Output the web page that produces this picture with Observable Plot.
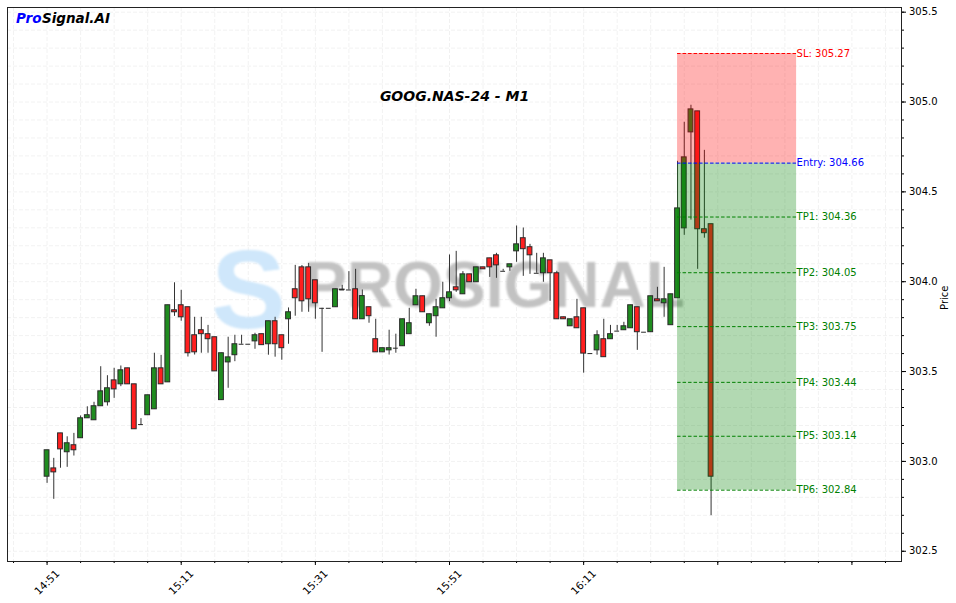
<!DOCTYPE html>
<html><head><meta charset="utf-8">
<script src="https://cdn.jsdelivr.net/npm/d3@7"></script>
<script src="https://cdn.jsdelivr.net/npm/@observablehq/plot@0.6"></script>
<style>body{margin:0;background:#fff;} svg{display:block;}</style>
</head><body><div id="chart"></div>
<script>
const times = ["14:51","14:52","14:53","14:54","14:55","14:56","14:57","14:58","14:59","15:00",
"15:01","15:02","15:03","15:04","15:05","15:06","15:07","15:08","15:09","15:10",
"15:11","15:12","15:13","15:14","15:15","15:16","15:17","15:18","15:19","15:20",
"15:21","15:22","15:23","15:24","15:25","15:26","15:27","15:28","15:29","15:30",
"15:31","15:32","15:33","15:34","15:35","15:36","15:37","15:38","15:39","15:40",
"15:41","15:42","15:43","15:44","15:45","15:46","15:47","15:48","15:49","15:50",
"15:51","15:52","15:53","15:54","15:55","15:56","15:57","15:58","15:59","16:00",
"16:01","16:02","16:03","16:04","16:05","16:06","16:07","16:08","16:09","16:10",
"16:11","16:12","16:13","16:14","16:15","16:16","16:17","16:18","16:19","16:20",
"16:21","16:22","16:23","16:24","16:25","16:26","16:27","16:28","16:29","16:30"];
const opens = [302.915,302.961,303.156,303.051,303.090,303.129,303.240,303.229,303.307,303.329,
303.451,303.429,303.518,303.429,303.205,303.257,303.290,303.518,303.440,303.841,
303.869,303.858,303.702,303.730,303.708,303.691,303.341,303.551,303.591,303.652,
303.652,303.668,303.708,303.652,303.780,303.702,303.791,303.958,304.080,304.080,
304.008,303.852,303.852,303.858,303.956,303.954,303.958,303.791,303.858,303.680,
303.607,303.618,303.630,303.641,303.708,303.869,303.919,303.769,303.808,303.852,
303.908,303.969,303.930,304.041,303.997,304.080,304.130,304.147,304.058,304.080,
304.169,304.242,304.192,304.047,304.047,304.119,304.047,303.802,303.752,303.802,
303.852,303.600,303.618,303.680,303.680,303.725,303.730,303.741,303.858,303.719,
303.719,303.902,303.880,303.758,303.908,304.297,304.831,304.948,304.292,304.320];
const highs = [303.062,303.017,303.156,303.137,303.156,303.253,303.304,303.329,303.527,303.477,
303.518,303.531,303.518,303.429,303.238,303.368,303.602,303.590,303.869,303.994,
303.952,303.858,303.802,303.802,303.757,303.691,303.602,303.691,303.702,303.702,
303.652,303.713,303.708,303.780,303.802,303.702,303.854,304.091,304.090,304.102,
304.008,303.852,303.852,303.958,303.980,304.056,304.069,303.954,303.858,303.791,
303.630,303.730,303.708,303.791,303.852,303.958,303.919,303.819,303.902,303.997,
304.149,304.169,304.056,304.041,304.080,304.080,304.130,304.158,304.069,304.097,
304.310,304.299,304.208,304.158,304.158,304.119,304.058,303.802,303.791,303.902,
303.852,303.600,303.727,303.791,303.757,303.757,303.774,303.869,303.858,303.719,
303.919,303.969,304.080,303.930,304.670,304.887,304.982,304.948,304.731,304.320];
const lows = [302.878,302.789,302.962,302.967,303.030,303.129,303.240,303.229,303.307,303.308,
303.351,303.416,303.429,303.179,303.205,303.257,303.290,303.429,303.440,303.807,
303.780,303.581,303.592,303.602,303.602,303.501,303.341,303.407,303.555,303.652,
303.652,303.624,303.647,303.591,303.580,303.563,303.652,303.808,303.830,303.830,
303.791,303.607,303.852,303.858,303.954,303.954,303.791,303.791,303.769,303.607,
303.607,303.592,303.602,303.641,303.708,303.869,303.830,303.752,303.691,303.852,
303.889,303.941,303.930,303.997,303.997,304.069,304.024,304.019,304.058,304.058,
304.108,304.030,304.041,304.047,303.997,303.891,303.791,303.791,303.752,303.741,
303.491,303.600,303.591,303.580,303.680,303.725,303.730,303.741,303.618,303.719,
303.719,303.891,303.802,303.758,303.908,304.258,304.343,304.069,304.242,302.698];
const closes = [303.062,302.939,303.067,303.101,303.062,303.240,303.257,303.307,303.390,303.407,
303.401,303.507,303.429,303.179,303.205,303.368,303.518,303.429,303.869,303.830,
303.802,303.602,303.607,303.708,303.680,303.501,303.602,303.579,303.652,303.652,
303.652,303.702,303.647,303.780,303.652,303.630,303.830,303.908,303.891,303.902,
303.880,303.852,303.852,303.958,303.954,303.954,303.791,303.920,303.808,303.607,
303.630,303.630,303.630,303.791,303.769,303.919,303.830,303.819,303.858,303.908,
303.941,303.952,304.041,303.997,304.080,304.069,304.080,304.091,304.058,304.097,
304.208,304.181,304.147,304.047,304.130,304.047,303.791,303.791,303.791,303.741,
303.600,303.600,303.702,303.580,303.708,303.725,303.752,303.869,303.719,303.719,
303.919,303.891,303.902,303.930,304.408,304.692,304.959,304.292,304.270,302.915];

const levelNames = ["SL","Entry","TP1","TP2","TP3","TP4","TP5","TP6"];
const levelValues = [305.27,304.66,304.36,304.05,303.75,303.44,303.14,302.84];
const levelColors = ["#ff0000","#0000ff","#008000","#008000","#008000","#008000","#008000","#008000"];
const zoneStart = "16:25";
const zoneEnd = "16:42:45";
const xTickLabels = ["14:51","15:11","15:31","15:51","16:11"];
const xMajorTicks = ["14:51","15:11","15:31","15:51","16:11","16:31","16:51"];
const yTickValues = [302.5,303.0,303.5,304.0,304.5,305.0,305.5];
const chartTitle = "GOOG.NAS-24 - M1";

const toMin = s => { const p = s.split(":").map(Number); return p[0]*60 + p[1] + (p[2]||0)/60; };

const candles = times.map((t,i) => ({t: toMin(t), o: opens[i], h: highs[i], l: lows[i], c: closes[i]}));
const hw = 0.36;
const dojis = candles.filter(d => Math.abs(d.o - d.c) < 0.004);
const levels = levelNames.map((n,i) => ({name: n, v: levelValues[i], color: levelColors[i]}));
const zs = toMin(zoneStart), ze = toMin(zoneEnd);
const entry = levelValues[1], sl = levelValues[0], tpLast = levelValues[levelValues.length-1];

const minorX = d3.range(886, 1020, 5);
const minorY = d3.range(3025, 3056).map(v => v/10);
const majorX = xMajorTicks.map(toMin);

const plot = Plot.plot({
  width: 956, height: 603,
  marginLeft: 7, marginTop: 7, marginRight: 55, marginBottom: 42,
  style: {fontFamily: "DejaVu Sans", fontSize: "10px", background: "#fff", color: "#000"},
  x: {domain: [885.10, 1018.39], label: null},
  y: {domain: [302.443, 305.526], label: null},
  marks: [
    Plot.ruleX(minorX, {stroke: "#000", strokeOpacity: 0.07, strokeDasharray: "4,2", strokeWidth: 0.8}),
    Plot.ruleY(minorY, {stroke: "#000", strokeOpacity: 0.07, strokeDasharray: "4,2", strokeWidth: 0.8}),
    Plot.text(["S"], {frameAnchor: "middle", dx: -206, dy: 8, fontSize: 112, fontWeight: "bold",
      fontFamily: "Liberation Sans", fill: "#cfe7fb", lineAnchor: "middle"}),
    Plot.text(["PROSIGNAL"], {frameAnchor: "middle", dx: 40, dy: 2, fontSize: 64, fontWeight: "bold",
      fontFamily: "Liberation Sans", fill: "#c2c2c2", lineAnchor: "middle"}),
    Plot.text([chartTitle], {frameAnchor: "top", dy: 89.5, fontSize: 14, fontWeight: "bold",
      fontStyle: "italic", lineAnchor: "middle", fill: "#000"}),
    Plot.ruleX(candles, {x: "t", y1: "l", y2: "h", stroke: "#333", strokeWidth: 1}),
    Plot.rect(candles, {x1: d => d.t - hw, x2: d => d.t + hw, y1: "o", y2: "c",
      fill: d => d.c >= d.o ? "#1f8c1f" : "#ff1f1f", stroke: "#2a2a2a", strokeWidth: 1}),
    Plot.ruleY(dojis, {y: "c", x1: d => d.t - hw, x2: d => d.t + hw, stroke: "#2a2a2a", strokeWidth: 1}),
    Plot.rect([{a: entry, b: sl}], {x1: () => zs, x2: () => ze, y1: "a", y2: "b", fill: "red", fillOpacity: 0.3}),
    Plot.rect([{a: tpLast, b: entry}], {x1: () => zs, x2: () => ze, y1: "a", y2: "b", fill: "green", fillOpacity: 0.3}),
    Plot.ruleY(levels, {y: "v", x1: () => zs, x2: () => ze, stroke: d => d.color, strokeDasharray: "3.5,2", strokeWidth: 1}),
    Plot.text(levels, {x: () => ze, y: "v", text: d => `${d.name}: ${d.v.toFixed(2)}`, textAnchor: "start",
      fill: d => d.color, fontSize: 10, lineAnchor: "middle"}),
    Plot.axisX(minorX, {tickSize: 2, tickFormat: () => "", label: null}),
    Plot.axisX(majorX, {tickSize: 4, tickFormat: () => "", label: null}),
    Plot.text(xTickLabels, {x: d => toMin(d), frameAnchor: "bottom", dy: 21, rotate: -45,
      textAnchor: "middle", lineAnchor: "middle", fontSize: 10.5}),
    Plot.axisY(minorY, {anchor: "right", tickSize: 2, tickFormat: () => "", label: null}),
    Plot.axisY(yTickValues, {anchor: "right", tickSize: 4, tickPadding: 3.5, tickFormat: d => d.toFixed(1), fontSize: 10, label: null}),
    Plot.text(["Price"], {frameAnchor: "right", dx: 43, dy: 1, rotate: -90, fontSize: 10, lineAnchor: "middle"}),
    Plot.frame({stroke: "#222", strokeWidth: 1}),
    Plot.text(["Pro"], {frameAnchor: "top-left", dx: 8.5, dy: 11.5, fontSize: 13.5, fontWeight: "bold",
      fontStyle: "italic", fill: "#0000ff", textAnchor: "start", lineAnchor: "middle"}),
    Plot.text(["Signal.AI"], {frameAnchor: "top-left", dx: 34.5, dy: 11.5, fontSize: 13.5, fontWeight: "bold",
      fontStyle: "italic", fill: "#000", textAnchor: "start", lineAnchor: "middle"})
  ]
});
// soft blur on the watermark, as in the reference
const svg = d3.select(plot);
svg.append("defs").append("filter").attr("id", "wmblur")
  .append("feGaussianBlur").attr("stdDeviation", 1.3);
svg.selectAll("text").filter(function(){ return this.textContent === "PROSIGNAL" || this.textContent === "S"; })
  .attr("filter", "url(#wmblur)");
document.getElementById("chart").appendChild(plot);
</script>
</body></html>
